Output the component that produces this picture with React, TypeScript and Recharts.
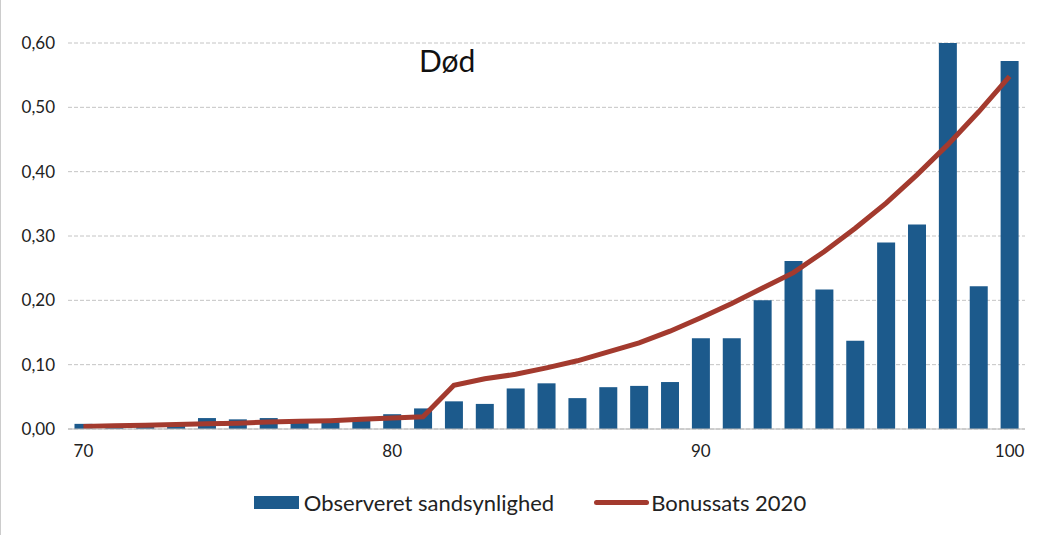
import React from "react";
import { ComposedChart, Bar, Line, XAxis, YAxis, CartesianGrid, Legend } from "recharts";

// ages 70..100
const ages = [
  70, 71, 72, 73, 74, 75, 76, 77, 78, 79, 80, 81, 82, 83, 84, 85,
  86, 87, 88, 89, 90, 91, 92, 93, 94, 95, 96, 97, 98, 99, 100,
];

// Observeret sandsynlighed (bars)
const observed = [
  0.008, 0.006, 0.006, 0.007, 0.017, 0.015, 0.017, 0.011, 0.012, 0.015, 0.023, 0.032, 0.043, 0.039, 0.063, 0.071,
  0.048, 0.065, 0.067, 0.073, 0.141, 0.141, 0.2, 0.261, 0.217, 0.137, 0.29, 0.318, 0.66, 0.222, 0.572,
];

// Bonussats 2020 (line)
const bonus = [
  0.004, 0.005, 0.006, 0.007, 0.008, 0.009, 0.011, 0.012, 0.013, 0.015, 0.017, 0.019, 0.068, 0.078, 0.085, 0.095,
  0.106, 0.12, 0.134, 0.152, 0.173, 0.195, 0.219, 0.243, 0.276, 0.312, 0.351, 0.395, 0.442, 0.493, 0.548,
];

const xTicks = [70, 80, 90, 100];
const yTicks = [0, 0.1, 0.2, 0.3, 0.4, 0.5, 0.6];

const BAR_COLOR = "#1C5A8C";
const LINE_COLOR = "#A33A2E";
const FONT = "Lato, 'Open Sans', sans-serif";

const data = ages.map((age, i) => ({ age, observed: observed[i], bonus: bonus[i] }));

function LegendContent() {
  return (
    <div style={{ display: "flex", justifyContent: "center", alignItems: "center", fontFamily: FONT, fontSize: 22, color: "#222", marginLeft: 34, marginTop: 2 }}>
      <span style={{ display: "inline-block", width: 45, height: 13, background: BAR_COLOR, marginRight: 5 }} />
      <span style={{ marginRight: 40 }}>Observeret sandsynlighed</span>
      <span style={{ display: "inline-block", width: 55, height: 5, borderRadius: 3, background: LINE_COLOR, marginRight: 2 }} />
      <span>Bonussats 2020</span>
    </div>
  );
}

export default function App() {
  return (
    <div style={{ position: "absolute", left: 0, top: 0, width: 1046, height: 535, background: "#fff", borderLeft: "1px solid #ccc" }}>
      <ComposedChart
        width={1046}
        height={535}
        data={data}
        margin={{ top: 43, right: 22, bottom: 0, left: 0 }}
        barCategoryGap="21%"
      >
        <CartesianGrid vertical={false} stroke="#c4c4c4" strokeDasharray="4 2" />
        <XAxis
          dataKey="age"
          ticks={xTicks}
          interval={0}
          axisLine={{ stroke: "#b8b8b8" }}
          tickLine={false}
          tickSize={0}
          tickMargin={16}
          tick={{ fill: "#222", fontSize: 17, fontFamily: FONT }}
          height={58}
        />
        <YAxis
          domain={[0, 0.6]}
          ticks={yTicks}
          allowDataOverflow
          width={67}
          axisLine={false}
          tickLine={false}
          tickSize={0}
          tickMargin={13}
          tickFormatter={(v: number) => v.toFixed(2).replace(".", ",")}
          tick={{ fill: "#222", fontSize: 17, fontFamily: FONT }}
        />
        <Bar dataKey="observed" name="Observeret sandsynlighed" fill={BAR_COLOR} isAnimationActive={false} />
        <Line
          dataKey="bonus"
          name="Bonussats 2020"
          type="linear"
          stroke={LINE_COLOR}
          strokeWidth={5}
          dot={false}
          activeDot={false}
          isAnimationActive={false}
        />
        <Legend verticalAlign="bottom" height={48} content={<LegendContent />} />
      </ComposedChart>
      <div style={{ position: "absolute", left: 418, top: 42, fontFamily: FONT, fontSize: 30, color: "#111" }}>Død</div>
    </div>
  );
}
